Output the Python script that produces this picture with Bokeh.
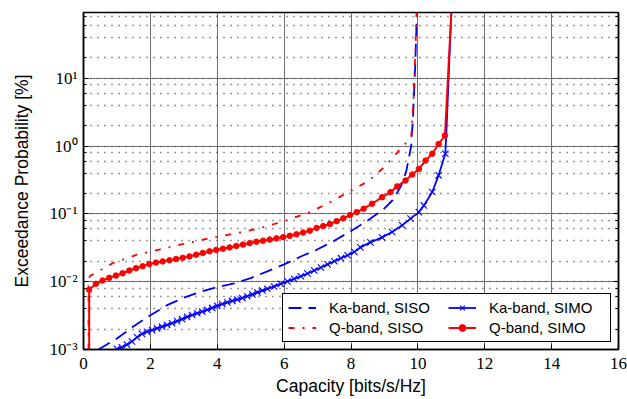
from bokeh.plotting import figure
from bokeh.models import (Range1d, FixedTicker, LogTicker, LogAxis, Legend,
                          LegendItem, CustomJSTickFormatter)
from bokeh.embed import file_html
from bokeh.resources import INLINE

# Exceedance probability [%] versus capacity [bits/s/Hz]
ka_siso_x = [0.45, 1.0, 1.5, 2.0, 2.5, 3.0, 3.5, 4.0, 4.5, 5.0, 5.5, 6.0, 6.5,
             7.0, 7.5, 8.0, 8.5, 9.0, 9.25, 9.5, 9.65, 9.8, 9.86, 9.92, 9.97]
ka_siso_p = [0.001, 0.00145, 0.0022, 0.0032, 0.0045, 0.0058, 0.0071, 0.0083,
             0.0094, 0.0113, 0.0142, 0.018, 0.0235, 0.030, 0.040, 0.056, 0.080,
             0.12, 0.16, 0.26, 0.42, 1.0, 3.0, 15.0, 93.0]

q_siso_x = [0.15, 0.15, 0.2, 0.9, 1.6, 2.3, 3.0, 3.8, 4.5, 5.2, 6.0, 6.8, 7.5,
            8.0, 8.5, 9.0, 9.5, 9.8, 9.87, 9.93, 9.96]
q_siso_p = [0.001, 0.011, 0.0122, 0.019, 0.025, 0.030, 0.036, 0.044, 0.051,
            0.060, 0.078, 0.107, 0.16, 0.22, 0.30, 0.49, 0.93, 1.35, 5.0, 30.0,
            93.0]

ka_simo_x = [1.00, 1.15, 1.30, 1.45, 1.60, 1.75, 1.90, 2.05, 2.20, 2.35, 2.50,
             2.65, 2.80, 2.95, 3.10, 3.25, 3.40, 3.55, 3.70, 3.85, 4.00, 4.15,
             4.30, 4.45, 4.60, 4.75, 4.90, 5.05, 5.20, 5.35, 5.50, 5.70, 5.90,
             6.10, 6.30, 6.50, 6.70, 6.90, 7.10, 7.30, 7.50, 7.70, 7.90, 8.10,
             8.28, 8.58, 8.93, 9.23, 9.53, 9.78, 10.03, 10.18, 10.43, 10.62,
             10.82]
ka_simo_p = [0.00102, 0.00108, 0.00118, 0.00131, 0.00152, 0.00170, 0.00183,
             0.00193, 0.00205, 0.00217, 0.00230, 0.00244, 0.00262, 0.00280,
             0.00302, 0.00322, 0.00342, 0.00362, 0.00385, 0.00410, 0.00440,
             0.00468, 0.00495, 0.00520, 0.00545, 0.00575, 0.00610, 0.00650,
             0.00695, 0.00740, 0.00785, 0.0085, 0.0093, 0.0101, 0.0110, 0.0120,
             0.0132, 0.0146, 0.0162, 0.0180, 0.0200, 0.0222, 0.0245, 0.0275,
             0.032, 0.038, 0.045, 0.054, 0.068, 0.085, 0.106, 0.133, 0.21, 0.37,
             0.77]
ka_simo_tail_x = [10.82, 10.85, 11.0]
ka_simo_tail_p = [0.77, 1.5, 93.0]

q_simo_x = [0.17, 0.37, 0.57, 0.77, 0.97, 1.17, 1.37, 1.57, 1.77, 1.97, 2.17,
            2.37, 2.57, 2.77, 2.97, 3.17, 3.37, 3.57, 3.77, 3.97, 4.17, 4.37,
            4.57, 4.77, 4.97, 5.17, 5.37, 5.57, 5.77, 5.97, 6.17, 6.37, 6.57,
            6.77, 6.97, 7.17, 7.37, 7.57, 7.77, 7.97, 8.17, 8.38, 8.63, 8.93,
            9.18, 9.38, 9.63, 9.83, 10.03, 10.23, 10.43, 10.62, 10.81]
q_simo_p = [0.0076, 0.0093, 0.0104, 0.0114, 0.0123, 0.0133, 0.0146, 0.0158,
            0.0169, 0.0182, 0.0191, 0.0199, 0.0207, 0.0216, 0.0225, 0.0236,
            0.0250, 0.0265, 0.0280, 0.0294, 0.0306, 0.0320, 0.0336, 0.0352,
            0.0370, 0.0388, 0.0402, 0.0418, 0.0435, 0.0452, 0.0475, 0.050,
            0.053, 0.0565, 0.062, 0.066, 0.071, 0.078, 0.086, 0.096, 0.106,
            0.119, 0.141, 0.176, 0.209, 0.254, 0.31, 0.38, 0.46, 0.61, 0.77,
            1.07, 1.43]
q_simo_start_x = [0.17, 0.17]
q_simo_start_p = [0.001, 0.0076]
q_simo_tail_x = [10.81, 11.0]
q_simo_tail_p = [1.43, 93.0]

x_ticks = [0, 2, 4, 6, 8, 10, 12, 14, 16]
y_ticks = [0.001, 0.01, 0.1, 1, 10]
y_tick_labels = ["10\u207b\u00b3", "10\u207b\u00b2", "10\u207b\u00b9",
                 "10\u2070", "10\u00b9"]

BLUE = "#0000ff"
RED = "#ff0000"
SANS = "Liberation Sans"
SERIF = "Liberation Serif"

p = figure(width=627, height=399, y_axis_type="log",
           x_range=Range1d(0, 16), y_range=Range1d(0.001, 93),
           output_backend="svg", toolbar_location=None,
           min_border_left=83, min_border_right=9, min_border_top=12,
           min_border_bottom=50)
p.background_fill_color = "white"
p.border_fill_color = "white"
p.outline_line_color = "black"
p.outline_line_width = 1.5
p.outline_line_alpha = 1.0

# axes
xa = p.xaxis[0]
xa.ticker = FixedTicker(ticks=x_ticks)
xa.axis_label = "Capacity [bits/s/Hz]"
ya = p.yaxis[0]
ya.ticker = LogTicker()
ya.major_label_overrides = {t: s for t, s in zip(y_ticks, y_tick_labels)}
ya.axis_label = "Exceedance Probability [%]"

for ax in (xa, ya):
    ax.axis_line_color = "black"
    ax.axis_line_width = 1.5
    ax.major_tick_in = 5
    ax.major_tick_out = 0
    ax.minor_tick_in = 3
    ax.minor_tick_out = 0
    ax.major_tick_line_color = "black"
    ax.minor_tick_line_color = "black"
    ax.major_label_text_font = SERIF
    ax.major_label_text_font_size = "17px"
    ax.major_label_text_color = "black"
    ax.axis_label_text_font = SANS
    ax.axis_label_text_font_size = "17.5px"
    ax.axis_label_text_font_style = "normal"
    ax.axis_label_text_color = "black"
xa.minor_tick_line_color = None
xa.major_label_standoff = 8
xa.axis_label_standoff = 4
ya.major_label_standoff = 6
ya.axis_label_standoff = 14

# mirrored ticks on the right side of the frame, without labels
ra = LogAxis(ticker=LogTicker(),
             formatter=CustomJSTickFormatter(code="return ''"),
             major_label_standoff=0, major_tick_in=5, major_tick_out=0,
             minor_tick_in=3, minor_tick_out=0, axis_line_color="black",
             axis_line_width=1.5)
p.add_layout(ra, "right")

# grids
p.xgrid.grid_line_color = "#707070"
p.xgrid.grid_line_width = 1
p.ygrid.grid_line_color = "#707070"
p.ygrid.grid_line_width = 1
p.ygrid.minor_grid_line_color = "#222222"
p.ygrid.minor_grid_line_alpha = 0.9
p.ygrid.minor_grid_line_dash = "1 6"
p.ygrid.minor_grid_line_width = 1.3

# curves
r_ka_siso = p.line(ka_siso_x, ka_siso_p, line_color=BLUE, line_width=1.8,
                   line_dash="13 7")
r_q_siso = p.line(q_siso_x, q_siso_p, line_color=RED, line_width=1.8,
                  line_dash="6 8 2 8")
r_ka_simo_l = p.line(ka_simo_x + ka_simo_tail_x[1:],
                     ka_simo_p + ka_simo_tail_p[1:],
                     line_color=BLUE, line_width=1.8)
r_ka_simo_m = p.scatter(ka_simo_x, ka_simo_p, marker="x", size=9,
                        line_color=BLUE, line_width=1.1)
r_q_simo_l = p.line(q_simo_start_x[:1] + q_simo_x + q_simo_tail_x[1:],
                    q_simo_start_p[:1] + q_simo_p + q_simo_tail_p[1:],
                    line_color=RED, line_width=2)
r_q_simo_m = p.scatter(q_simo_x, q_simo_p, marker="circle", size=5.5,
                       fill_color=RED, line_color=RED)

legend = Legend(items=[
    LegendItem(label="Ka-band, SISO", renderers=[r_ka_siso]),
    LegendItem(label="Q-band, SISO", renderers=[r_q_siso]),
    LegendItem(label="Ka-band, SIMO", renderers=[r_ka_simo_l, r_ka_simo_m]),
    LegendItem(label="Q-band, SIMO", renderers=[r_q_simo_l, r_q_simo_m]),
], ncols=2, location="bottom_right", padding=5, margin=7, spacing=3,
    glyph_width=28, glyph_height=17, label_standoff=13, label_width=116,
    label_height=17, label_text_font=SANS, label_text_font_size="15px",
    label_text_color="black", border_line_color="black",
    border_line_width=1.5, border_line_alpha=1.0,
    background_fill_color="white", background_fill_alpha=1.0)
p.add_layout(legend)

open("out.html", "w").write(file_html(p, INLINE))
